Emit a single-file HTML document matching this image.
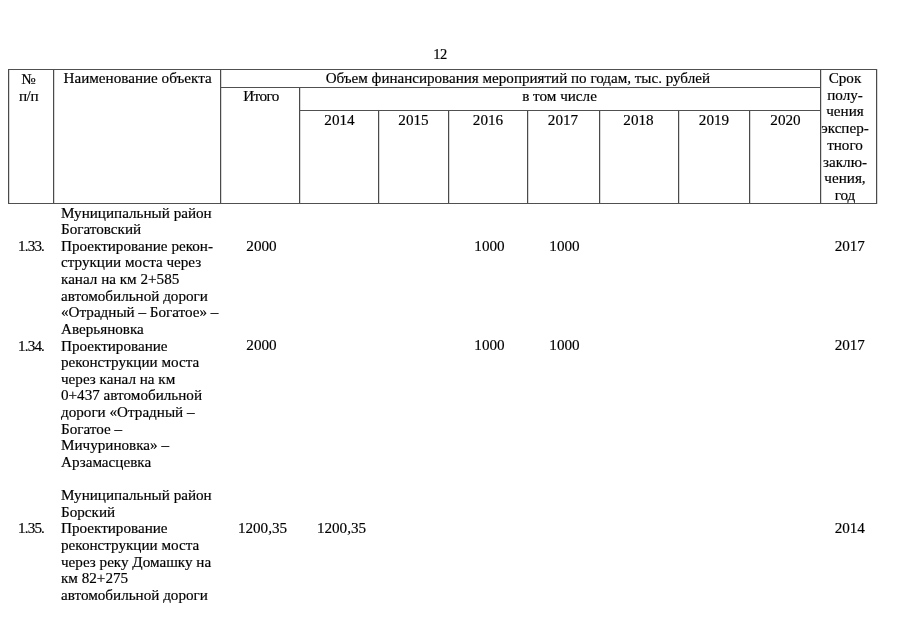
<!DOCTYPE html>
<html><head><meta charset="utf-8">
<style>
html,body{margin:0;padding:0;background:#fff;}
body{width:905px;height:640px;position:relative;overflow:hidden;font-family:"Liberation Serif",serif;font-size:15.15px;line-height:16.63px;color:#000;-webkit-text-stroke:0.17px #000;}
.t{position:absolute;white-space:nowrap;}
.c{text-align:center;}
.n{letter-spacing:-0.85px;}
.hl{position:absolute;height:1px;background:#505050;z-index:2;}
.vl{position:absolute;width:1px;background:#4a4a4a;box-shadow:1px 0 0 #d8d8d8;}
</style></head><body>
<div class="t c" style="left:420px;width:40px;top:46px;font-size:14.5px;letter-spacing:-0.6px;">12</div>

<!-- horizontal lines -->
<div class="hl" style="left:8px;width:869px;top:69px;"></div>
<div class="hl" style="left:220px;width:600px;top:87px;"></div>
<div class="hl" style="left:299px;width:521px;top:110px;"></div>
<div class="hl" style="left:8px;width:869px;top:203px;"></div>
<!-- vertical lines -->
<div class="vl" style="left:8px;top:69px;height:135px;"></div>
<div class="vl" style="left:53px;top:69px;height:135px;"></div>
<div class="vl" style="left:220px;top:69px;height:135px;"></div>
<div class="vl" style="left:299px;top:87px;height:117px;"></div>
<div class="vl" style="left:378px;top:110px;height:94px;"></div>
<div class="vl" style="left:448px;top:110px;height:94px;"></div>
<div class="vl" style="left:527px;top:110px;height:94px;"></div>
<div class="vl" style="left:599px;top:110px;height:94px;"></div>
<div class="vl" style="left:677.6px;top:110px;height:94px;"></div>
<div class="vl" style="left:749px;top:110px;height:94px;"></div>
<div class="vl" style="left:820px;top:69px;height:135px;"></div>
<div class="vl" style="left:876px;top:69px;height:135px;"></div>

<!-- header text -->
<div class="t c" style="left:6px;width:45px;top:69.6px;line-height:17px;">№<br><span style="letter-spacing:-0.4px">п/п</span></div>
<div class="t" style="left:63.5px;top:70px;">Наименование объекта</div>
<div class="t c" style="left:217.8px;width:600px;top:70px;font-size:15.09px;">Объем финансирования мероприятий по годам, тыс. рублей</div>
<div class="t c" style="left:221.5px;width:79px;top:88.2px;letter-spacing:-0.55px;">Итого</div>
<div class="t c" style="left:299px;width:521px;top:88.3px;">в том числе</div>
<div class="t c" style="left:300px;width:79px;top:111.6px;">2014</div>
<div class="t c" style="left:378.5px;width:70px;top:111.6px;">2015</div>
<div class="t c" style="left:449px;width:78px;top:111.6px;">2016</div>
<div class="t c" style="left:526.5px;width:73px;top:111.6px;">2017</div>
<div class="t c" style="left:599.5px;width:78px;top:111.6px;">2018</div>
<div class="t c" style="left:678px;width:72px;top:111.6px;">2019</div>
<div class="t c" style="left:750px;width:71px;top:111.6px;">2020</div>
<div class="t c" style="left:815.5px;width:59px;top:70px;line-height:16.7px;">Срок<br>полу-<br>чения<br>экспер-<br>тного<br>заклю-<br>чения,<br>год</div>

<!-- body -->
<div class="t" style="left:61px;top:204.6px;">Муниципальный район<br>Богатовский<br>Проектирование рекон-<br>струкции моста через<br>канал на км 2+585<br>автомобильной дороги<br>«Отрадный – Богатое» –<br>Аверьяновка<br>Проектирование<br>реконструкции моста<br>через канал на км<br>0+437 автомобильной<br>дороги «Отрадный –<br>Богатое –<br>Мичуриновка» –<br>Арзамасцевка</div>
<div class="t" style="left:61px;top:487.2px;">Муниципальный район<br>Борский<br>Проектирование<br>реконструкции моста<br>через реку Домашку на<br>км 82+275<br>автомобильной дороги</div>

<div class="t n" style="left:18px;top:237.8px;">1.33.</div>
<div class="t n" style="left:18px;top:337.6px;">1.34.</div>
<div class="t n" style="left:18px;top:520.4px;">1.35.</div>

<div class="t c" style="left:222px;width:79px;top:237.5px;">2000</div>
<div class="t c" style="left:448.5px;width:82px;top:237.5px;">1000</div>
<div class="t c" style="left:526px;width:77px;top:237.5px;">1000</div>
<div class="t c" style="left:820.3px;width:59px;top:237.5px;">2017</div>

<div class="t c" style="left:222px;width:79px;top:337.3px;">2000</div>
<div class="t c" style="left:448.5px;width:82px;top:337.3px;">1000</div>
<div class="t c" style="left:526px;width:77px;top:337.3px;">1000</div>
<div class="t c" style="left:820.3px;width:59px;top:337.3px;">2017</div>

<div class="t c" style="left:220.5px;width:84px;top:520.2px;">1200,35</div>
<div class="t c" style="left:299.5px;width:84px;top:520.2px;">1200,35</div>
<div class="t c" style="left:820.3px;width:59px;top:520.2px;">2014</div>
</body></html>
